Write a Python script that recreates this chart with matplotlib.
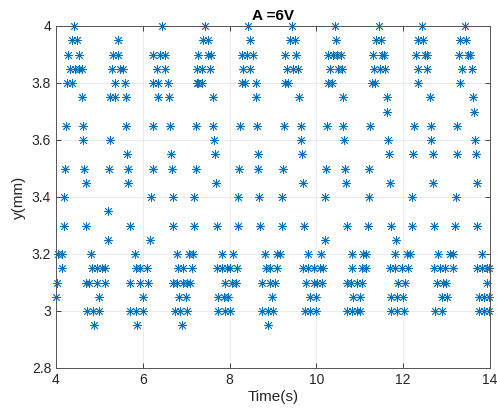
import matplotlib
matplotlib.use("Agg")
import matplotlib.pyplot as plt
import numpy as np

# Time positions (s) of samples at each displacement level (mm)
t_400 = [4.41, 6.44, 7.43, 8.43, 9.43, 10.43, 11.45, 12.43, 13.42]
t_395 = [4.36, 4.48, 5.44, 7.38, 7.50, 8.47, 9.39, 9.50, 10.45, 11.38, 11.49, 12.33, 12.45, 13.31, 13.45]
t_390 = [4.28, 4.54, 5.32, 5.44, 6.24, 6.40, 6.51, 7.28, 7.51, 7.56, 8.28, 8.39, 8.55, 9.28, 9.53,
         10.27, 10.39, 10.47, 10.56, 11.30, 11.50, 11.56, 12.29, 12.50, 12.55, 13.29, 13.50, 13.55]
t_385 = [4.32, 4.44, 4.54, 4.59, 5.28, 5.47, 5.55, 6.32, 6.51, 7.24, 7.36, 7.55, 8.32, 8.47, 9.32, 9.47, 9.58,
         10.31, 10.50, 10.58, 11.33, 11.47, 11.58, 12.35, 12.54, 13.35, 13.58]
t_380 = [4.25, 4.36, 5.36, 5.59, 6.24, 6.36, 6.59, 7.24, 7.28, 7.36, 8.28, 8.35, 8.61, 9.28, 9.35,
         10.27, 10.35, 11.27, 11.35, 12.33, 13.31]
t_375 = [4.59, 5.24, 5.36, 5.61, 6.36, 6.60, 7.61, 8.61, 9.61, 10.61, 11.62, 12.62, 13.60]
t_370 = [11.63, 13.63]
t_365 = [4.23, 4.63, 5.61, 6.24, 6.63, 7.23, 7.62, 8.24, 8.62, 9.25, 9.64, 10.24, 10.62, 11.24, 12.25, 12.63, 13.25]
t_360 = [4.63, 5.24, 7.64, 9.65, 10.64, 11.64, 12.64, 13.65]
t_355 = [5.64, 6.64, 7.66, 8.65, 9.66, 11.68, 12.23, 12.68, 13.23, 13.67]
t_350 = [4.21, 4.65, 5.22, 5.65, 6.23, 6.67, 7.23, 8.22, 8.66, 9.22, 10.22, 10.66, 11.22]
t_345 = [4.69, 5.67, 7.69, 9.70, 10.68, 11.70, 12.69, 13.69]
t_340 = [4.19, 6.20, 6.69, 7.19, 8.20, 8.68, 9.20, 10.20, 11.22, 12.20, 13.22]
t_335 = [5.20]
t_330 = [4.18, 4.69, 5.71, 6.70, 7.18, 7.70, 8.20, 8.70, 9.20, 9.71,
         10.71, 11.20, 11.71, 12.20, 12.71, 13.19, 13.71]
t_325 = [5.19, 6.17, 10.20, 11.83]
t_320 = [4.05, 4.13, 4.81, 5.82, 6.78, 7.07, 7.15, 7.82, 8.07, 8.82, 9.10, 9.16, 9.81, 10.10,
         10.81, 11.08, 11.14, 11.81, 12.08, 12.16, 12.81, 13.08, 13.14, 13.81]
t_315 = [4.13, 4.82, 4.94, 5.05, 5.13, 5.84, 5.94, 6.09, 6.82, 6.93, 7.13, 7.70, 7.82, 7.93, 8.02, 8.16,
         8.85, 8.93, 9.10, 9.70, 9.81, 9.94, 10.08, 10.16, 10.81, 11.04, 11.14, 11.70, 11.81, 11.97, 12.12,
         12.71, 12.85, 12.96, 13.14, 13.69, 13.81, 13.92, 13.98]
t_310 = [4.03, 4.69, 4.77, 4.95, 5.13, 5.71, 5.94, 6.13, 6.70, 6.78, 6.93, 7.01, 7.09, 7.89, 8.05, 8.15,
         8.74, 8.93, 9.05, 9.76, 9.94, 10.02, 10.14, 10.70, 10.79, 10.94, 11.04, 11.89, 12.04,
         12.77, 12.92, 12.99, 13.92]
t_305 = [4.00, 5.00, 6.01, 6.84, 7.00, 7.74, 7.86, 7.97, 8.97, 9.85, 9.99, 10.84, 11.00,
         11.73, 11.86, 12.00, 12.89, 13.02, 13.75, 13.86, 13.98]
t_300 = [4.72, 4.85, 5.00, 5.71, 5.84, 6.00, 6.74, 6.86, 7.01, 7.74, 7.89, 8.02, 8.74, 8.89, 9.01,
         9.74, 9.85, 9.99, 10.71, 10.81, 10.93, 11.00, 11.71, 11.85, 12.02, 12.73, 12.89, 13.75, 13.86, 13.98]
t_295 = [4.88, 5.87, 6.90, 8.89]

levels = [4.00, 3.95, 3.90, 3.85, 3.80, 3.75, 3.70, 3.65, 3.60, 3.55, 3.50, 3.45, 3.40, 3.35,
          3.30, 3.25, 3.20, 3.15, 3.10, 3.05, 3.00, 2.95]
groups = [t_400, t_395, t_390, t_385, t_380, t_375, t_370, t_365, t_360, t_355, t_350, t_345,
          t_340, t_335, t_330, t_325, t_320, t_315, t_310, t_305, t_300, t_295]

x_ticks = [4, 6, 8, 10, 12, 14]
y_ticks = [2.8, 3, 3.2, 3.4, 3.6, 3.8, 4]
y_ticklabels = ["2.8", "3", "3.2", "3.4", "3.6", "3.8", "4"]

t = np.concatenate([np.array(g, dtype=float) for g in groups])
y = np.concatenate([np.full(len(g), lv) for g, lv in zip(groups, levels)])

plt.rcParams['font.family'] = ['Liberation Sans', 'DejaVu Sans']
fig = plt.figure(figsize=(4.97, 4.13), dpi=100)
ax = fig.add_axes([56/497, 1-368/413, (490-56)/497, (368-26)/413])
ax.plot(t, y, linestyle='none', marker=(8, 2, 0), markersize=6.2, markeredgewidth=0.6,
        color='#0072BD', clip_on=False)
ax.set_xlim(4, 14)
ax.set_ylim(2.8, 4)
ax.set_xticks(x_ticks)
ax.set_yticks(y_ticks)
ax.set_yticklabels(y_ticklabels)
ax.grid(True, color='#e6e6e6', linewidth=0.6)
ax.set_axisbelow(True)
ax.tick_params(direction='in', length=3.5, width=0.6, labelsize=10, colors='#262626',
               top=True, right=True)
for s in ax.spines.values():
    s.set_color('#555555')
    s.set_linewidth(0.7)
ax.set_xlabel('Time(s)', fontsize=11, color='#262626', labelpad=2)
ax.set_ylabel('y(mm)', fontsize=11, color='#262626', labelpad=4)
ax.set_title('A =6V', fontsize=11, fontweight='bold', color='black', pad=4)
fig.savefig('out.png', dpi=100)
